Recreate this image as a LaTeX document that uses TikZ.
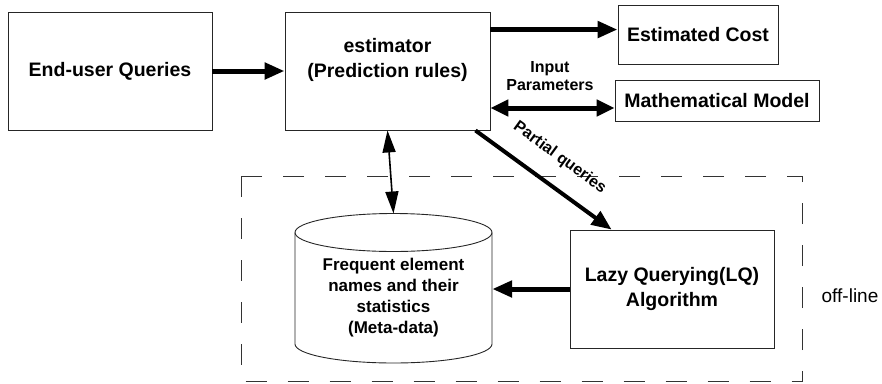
\documentclass[tikz,border=0pt]{standalone}
\usepackage{fontspec}
\setmainfont{Liberation Sans}
\usetikzlibrary{arrows.meta}
\begin{document}
\begin{tikzpicture}[x=1pt,y=-1pt,
  box/.style={draw=black!85, line width=0.9pt, inner sep=0pt},
  bigtext/.style={font=\fontsize{19.5}{25}\selectfont\bfseries, align=center},
  midtext/.style={font=\fontsize{17}{21}\selectfont\bfseries, align=center},
  smalltext/.style={font=\fontsize{16}{18}\selectfont\bfseries, align=center},
  fat/.style={line width=5pt, -{Triangle[length=20pt,width=16pt]}},
  fatboth/.style={line width=5pt, {Triangle[length=18pt,width=16pt]}-{Triangle[length=18pt,width=16pt]}},
  diag/.style={line width=4pt, -{Triangle[length=20pt,width=16pt]}},
  thinboth/.style={line width=1.6pt, {Triangle[length=22pt,width=13pt]}-{Triangle[length=22pt,width=13pt]}},
  offbox/.style={draw=black!80, line width=0.9pt, dash pattern=on 21pt off 21pt}
]
\path[use as bounding box] (0,0) rectangle (882,383);

% offline dashed region
\draw[offbox] (241,176) rectangle (802,381.5);

% boxes
\node[box, minimum width=204pt, minimum height=118pt, bigtext] (eu) at (110,71) {End-user Queries};
\node[box, minimum width=205pt, minimum height=118pt] (est) at (387.5,71) {};
\node[bigtext] (esttext) at ([yshift=11pt]est.center) {estimator\\(Prediction rules)};
\node[box, minimum width=160pt, minimum height=59pt, bigtext] (ec) at (698,34.5) {Estimated Cost};
\node[box, minimum width=204pt, minimum height=41pt, bigtext] (mm) at (717,100.5) {Mathematical Model};
\node[box, minimum width=204pt, minimum height=118pt, bigtext] (lq) at (672,289) {Lazy Querying(LQ)\\Algorithm};

% cylinder (meta-data store)
\node[minimum width=197pt, minimum height=150pt, midtext] (db) at (393.5,298)
  {Frequent element\\names and their\\statistics\\(Meta-data)};
\coordinate (cyltop) at (393.5,213.5);
\draw[line width=0.9pt, black!85] (295,232.5) -- (295,344)
  arc[start angle=180, end angle=360, x radius=98.5pt, y radius=19pt] -- (492,232.5);
\draw[line width=0.9pt, black!85] (393.5,232.5) ellipse[x radius=98.5pt, y radius=19pt];

% labels
\node[smalltext] (inp) at (550,76) {Input\\Parameters};
\node[font=\fontsize{19}{23}\selectfont] (off) at (850,296) {off-line};

% connectors
\draw[fat] (eu.east) -- (est.west);
\draw[fat] ([yshift=-18pt]est.north east) -- ([yshift=-18pt]est.north east -| ec.west);
\draw[fatboth] ([yshift=-37pt]est.east) -- ([yshift=-37pt]est.east -| mm.west);
\draw[diag] ([xshift=-15pt]est.south east) -- node[sloped, above=18pt, smalltext, inner sep=0pt] {Partial queries} ([xshift=42pt]lq.north west);
\draw[thinboth] (est.south) -- (cyltop);
\draw[fat] (lq.west) -- (lq.west -| db.east);
\end{tikzpicture}
\end{document}
